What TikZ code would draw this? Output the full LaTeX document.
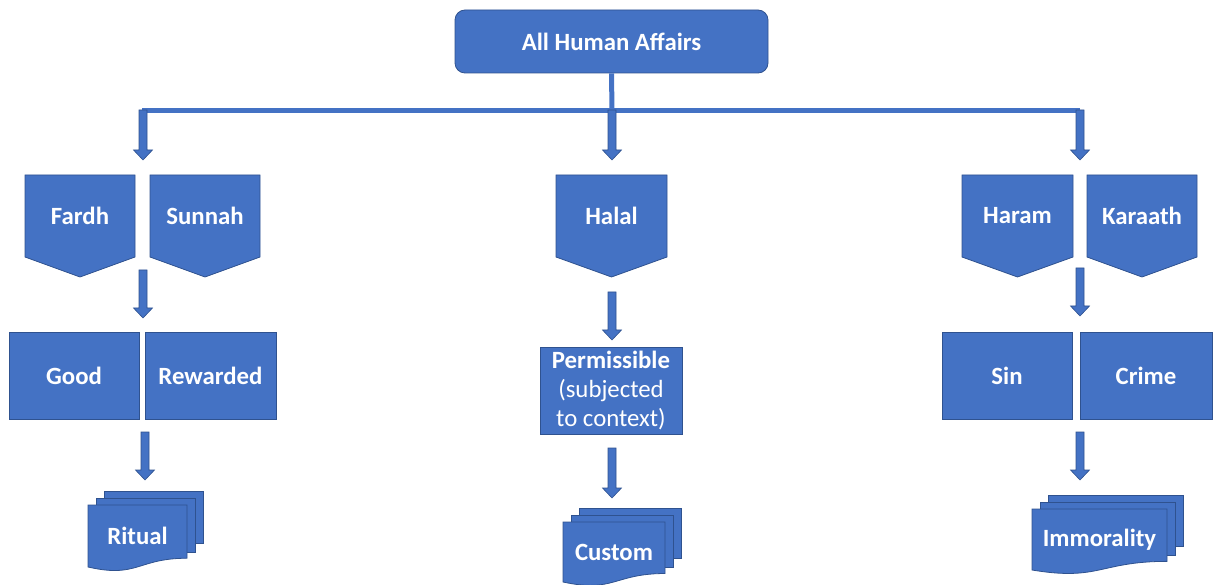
\documentclass[tikz,border=0pt]{standalone}
\usepackage{fontspec}
\setmainfont{Carlito}
\usetikzlibrary{calc}
\definecolor{mblue}{RGB}{68,114,196}
\definecolor{mdark}{RGB}{47,82,143}
\tikzset{
  shp/.style={fill=mblue,draw=mdark,line width=0.8pt},
  lbl/.style={text=white,font=\fontsize{24.8}{29}\selectfont\bfseries,inner sep=0pt},
  boxn/.style={shp,lbl,minimum height=87pt,inner sep=0pt},
  conn/.style={draw=mblue,line width=5pt},
  arr/.style={fill=mblue,draw=mdark,line width=0.6pt}
}
\newcommand\barrow[2]{\path[arr] let \p1=(#1), \p2=(#2) in (\x1-4pt,\y1) -- (\x1+4pt,\y1) -- (\x1+4pt,\y2+10pt) -- (\x1+9.5pt,\y2+10pt) -- (\x1,\y2) -- (\x1-9.5pt,\y2+10pt) -- (\x1-4pt,\y2+10pt) -- cycle;}
\newcommand\pent[4]{% name, x1, x2, text
  \pgfmathsetmacro\xm{(#2+#3)/2}
  \draw[shp] (#2,175) -- (#3,175) -- (#3,257) -- (\xm,277) -- (#2,257) -- cycle;
  \node[lbl] (#1) at (\xm,216) {#4};
}
\newcommand\mdoc[6]{% name, x1, x2, top, left bottom, text
  \pgfmathsetmacro\hh{(#5-#4)/0.934}
  \pgfmathsetmacro\yr{#4+0.802*\hh}
  \pgfmathsetmacro\yc{#4+1.107*\hh}
  \pgfmathsetmacro\xm{(#2+#3)/2}
  \draw[shp] (#2+16,#4-14) rectangle (#3+16,#5-24);
  \draw[shp] (#2+8,#4-7) rectangle (#3+8,#5-15);
  \draw[shp] (#2,#4) -- (#3,#4) -- (#3,\yr) .. controls (\xm,\yr) and (\xm,\yc) .. (#2,#5) -- cycle;
  \node[lbl] (#1) at (\xm,{(#4+#5)/2}) {#6};
}
\begin{document}
\begin{tikzpicture}[x=1pt,y=-1pt]
\useasboundingbox (0,0) rectangle (1213,585);
% top
\node[shp,lbl,rounded corners=10pt,minimum width=313pt,minimum height=63pt] (top) at (611.5,41.5) {All Human Affairs};
\coordinate (hub) at (612,111);
\coordinate (hl) at (142,111);
\coordinate (hr) at (1080,111);
\draw[conn] (top.south) -- (hub);
\draw[conn] (hl) -- (hr);
% level 1
\pent{fardh}{25}{135}{Fardh}
\pent{sunnah}{150}{260}{Sunnah}
\pent{halal}{556}{667}{Halal}
\pent{haram}{962}{1073}{Haram}
\pent{karaath}{1087}{1197}{Karaath}
% level 2
\node[boxn,minimum width=130pt] (good) at (74,375.5) {Good};
\node[boxn,minimum width=131pt] (rewarded) at (210.5,375.5) {Rewarded};
\node[boxn,minimum width=142pt,align=center] (perm) at (611,390.5) {Permissible\\\mdseries(subjected\\\mdseries to context)};
\node[boxn,minimum width=130pt] (sin) at (1007,375.5) {Sin};
\node[boxn,minimum width=132pt] (crime) at (1146,375.5) {Crime};
% level 3
\mdoc{ritual}{88}{187}{505}{567}{Ritual}
\mdoc{custom}{563}{665}{522}{582}{Custom}
\mdoc{immor}{1032}{1167}{509}{570}{Immorality}
% arrows
\coordinate (a1t) at (143,110); \coordinate (a1b) at (143,160);
\coordinate (a2t) at (143,270); \coordinate (a2b) at (143,318);
\coordinate (a3t) at (145,432); \coordinate (a3b) at (145,480);
\coordinate (b1t) at (612,110); \coordinate (b1b) at (612,160);
\coordinate (b2t) at (612,292); \coordinate (b2b) at (612,340);
\coordinate (b3t) at (612,448); \coordinate (b3b) at (612,498);
\coordinate (c1t) at (1080,110); \coordinate (c1b) at (1080,160);
\coordinate (c2t) at (1080,268); \coordinate (c2b) at (1080,316);
\coordinate (c3t) at (1080,432); \coordinate (c3b) at (1080,480);
\barrow{a1t}{a1b}\barrow{a2t}{a2b}\barrow{a3t}{a3b}
\barrow{b1t}{b1b}\barrow{b2t}{b2b}\barrow{b3t}{b3b}
\barrow{c1t}{c1b}\barrow{c2t}{c2b}\barrow{c3t}{c3b}
\end{tikzpicture}
\end{document}
